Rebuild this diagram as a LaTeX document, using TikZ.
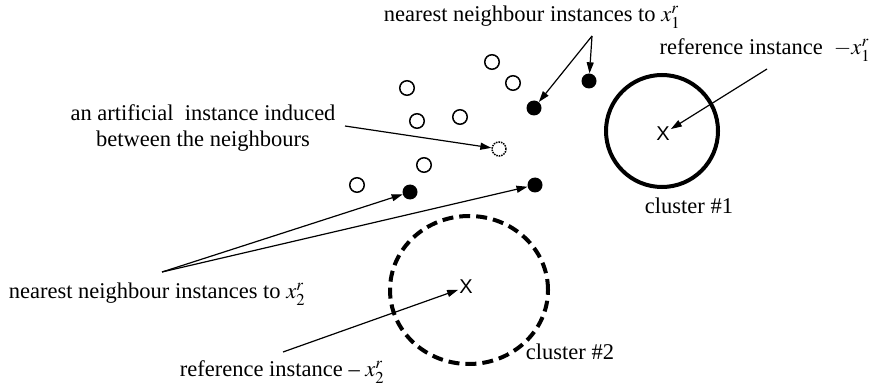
\documentclass[tikz,border=0pt]{standalone}
\usepackage{mathptmx}
\usepackage{fontspec}
\setmainfont{Liberation Serif}
\newfontfamily\xsans{Liberation Sans}
\usetikzlibrary{arrows.meta,shapes.geometric}
\begin{document}
\begin{tikzpicture}[x=1pt,y=-1pt,
  lbl/.style={inner sep=0pt,font=\fontsize{22.5}{25}\selectfont,align=center},
  opendot/.style={circle,draw,line width=1.5pt,minimum size=14.5pt,inner sep=0pt},
  fulldot/.style={circle,fill=black,minimum size=15pt,inner sep=0pt},
  artdot/.style={circle,draw,densely dotted,line width=1.5pt,minimum size=14pt,inner sep=0pt},
  xmark/.style={inner sep=1pt,font=\xsans\fontsize{20}{20}\selectfont},
  arr/.style={draw,line width=1.2pt,-{Triangle[length=11pt,width=7pt]}}]
\useasboundingbox (0,0) rectangle (872,390);
% open instances
\node[opendot] (o1) at (492,62) {};
\node[opendot] (o2) at (513,83) {};
\node[opendot] (o3) at (407,88) {};
\node[opendot] (o4) at (417,121) {};
\node[opendot] (o5) at (460,117) {};
\node[opendot] (o6) at (424,165) {};
\node[opendot] (o7) at (357,185) {};
% neighbours
\node[fulldot] (f1) at (589,81) {};
\node[fulldot] (f2) at (534,108) {};
\node[fulldot] (f3) at (410,192) {};
\node[fulldot] (f4) at (535,185) {};
% artificial
\node[artdot] (art) at (499,149) {};
% clusters
\node[circle,draw,line width=4pt,minimum size=112pt,inner sep=0pt] (cl1) at (662,131) {};
\node[xmark] (c1x) at (663,134) {X};
\node[ellipse,draw,line width=4pt,dash pattern=on 11pt off 6pt,minimum width=158pt,minimum height=148pt,inner sep=0pt] (cl2) at (469,290) {};
\node[xmark] (c2x) at (466,287) {X};
% labels
\node[lbl] (tnn1) at (532,17) {nearest neighbour instances to $x_1^r$};
\node[lbl] (tref1) at (765,50) {reference instance \ $-x_1^r$};
\node[lbl] (tcl1) at (689,206) {cluster \#1};
\node[lbl] (tcl2) at (570,352) {cluster \#2};
\node[lbl] (tref2) at (282,372) {reference instance -- $x_2^r$};
\node[lbl] (tnn2) at (157,294) {nearest neighbour instances to $x_2^r$};
\node[lbl] (tart) at (203,128) {an artificial\ \ instance induced\\[1.5pt]between the neighbours};
% arrow start points
\coordinate (a1) at (592,36);
\coordinate (a2) at (767,69);
\coordinate (a3) at (345,126);
\coordinate (a4) at (162,272);
\coordinate (a5) at (283,352);
% arrows
\draw[arr] (a1) -- (f1);
\draw[arr] (a1) -- (f2);
\draw[arr] (a2) -- (c1x);
\draw[arr] (a3) -- (art);
\draw[arr] (a4) -- (f3);
\draw[arr] (a4) -- (f4);
\draw[arr] (a5) -- (c2x);
\end{tikzpicture}
\end{document}
